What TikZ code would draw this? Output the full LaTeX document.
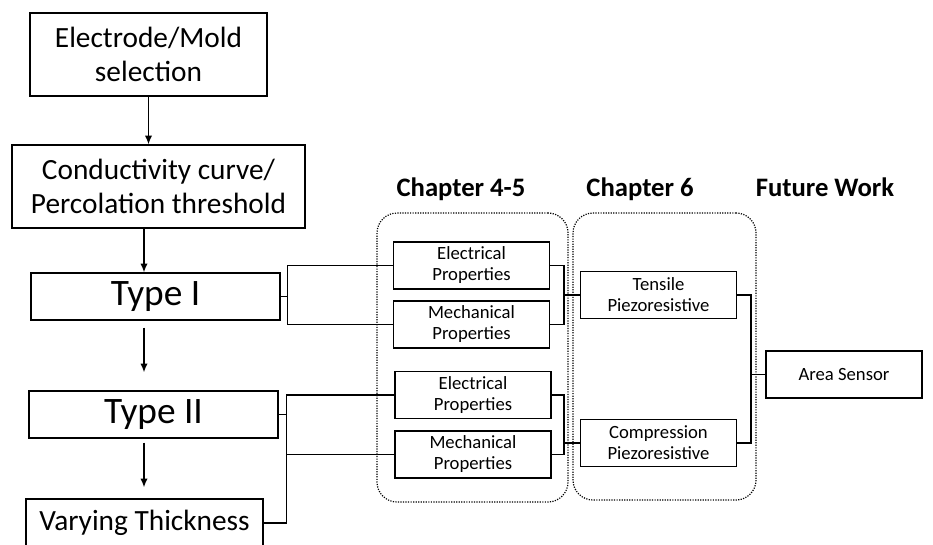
\documentclass[tikz,border=0pt]{standalone}
\usepackage{fontspec}
\setmainfont{Carlito}
\usetikzlibrary{arrows.meta,positioning}

\begin{document}
\begin{tikzpicture}[x=0.75pt, y=-0.75pt,
    box/.style={draw, line width=1.1pt, inner sep=0pt, align=center},
    bigbox/.style={box, font=\fontsize{22}{25.5}\selectfont},
    typebox/.style={box, minimum width=186.75pt, minimum height=35.25pt, font=\fontsize{28}{32}\selectfont},
    smallbox/.style={box, minimum width=117pt, minimum height=35.25pt, font=\fontsize{14}{15.75}\selectfont},
    group/.style={draw, densely dotted, line width=0.9pt, rounded corners=15pt, inner sep=0pt},
    head/.style={anchor=base, font=\fontsize{20}{24}\selectfont\bfseries},
    flow/.style={-{Latex[length=6.5pt,width=5.5pt]}, line width=1pt},
    link/.style={line width=1pt}]
    \useasboundingbox (0,0) rectangle (933,544);

    % Chapter groups
    \node[group, minimum width=143.25pt, minimum height=216.75pt] (g1) at (472.5,357.5) {};
    \node[group, minimum width=137.25pt, minimum height=215.25pt] (g2) at (664.5,356.5) {};
    \node[head] (h1) at (461,196) {Chapter 4-5};
    \node[head] (h2) at (640,196) {Chapter 6};
    \node[head] (h3) at (825,196) {Future Work};

    % Main chain
    \node[bigbox, minimum width=177.75pt, minimum height=62.25pt] (sel) at (148.5,54.5) {Electrode/Mold\\selection};
    \node[bigbox, minimum width=219.75pt, minimum height=62.25pt] (perc) at (158.5,186.5) {Conductivity curve/\\Percolation threshold};
    \node[typebox] (t1) at (155.5,296.5) {Type I};
    \node[typebox] (t2) at (153.5,414.5) {Type II};
    \node[bigbox, minimum width=177.75pt, minimum height=36pt] (vt) at (144.5,523) {Varying Thickness};

    \coordinate (ax) at (144,0);
    \draw[flow] (sel.south) -- (sel.south |- perc.north);
    \draw[flow] (perc.south -| ax) -- (t1.north -| ax);
    \draw[flow, shorten <=5.25pt, shorten >=13.5pt] (t1.south -| ax) -- (t2.north -| ax);
    \draw[flow, shorten <=3pt, shorten >=8.25pt] (t2.south -| ax) -- (vt.north -| ax);

    % Chapter 4-5
    \node[smallbox] (e1) at (471.5,265.5) {Electrical\\Properties};
    \node[smallbox] (m1) at (471.5,324.5) {Mechanical\\Properties};
    \node[smallbox] (e2) at (473,395) {Electrical\\Properties};
    \node[smallbox] (m2) at (473,454.5) {Mechanical\\Properties};

    % Chapter 6 and future work
    \node[smallbox] (tp) at (658.5,295) {Tensile\\Piezoresistive};
    \node[smallbox] (cp) at (658.5,443) {Compression\\Piezoresistive};
    \node[smallbox] (as) at (844,374.5) {Area Sensor};

    % Brackets
    \draw[link] (t1.east) -- ++(7,0) coordinate (b1);
    \draw[link] (e1.west) -| (b1) |- (m1.west);
    \draw[link] (t2.east) -- ++(8,0) coordinate (b2);
    \draw[link] (e2.west) -| (b2) |- (vt.east);
    \draw[link] (b2 |- m2.west) -- (m2.west);

    \coordinate (c1) at (564,295);
    \coordinate (c2) at (564,443);
    \coordinate (c3) at (751,374.5);
    \draw[link] (e1.east) -| (c1) |- (m1.east);
    \draw[link] (c1) -- (tp.west);
    \draw[link] (e2.east) -| (c2) |- (m2.east);
    \draw[link] (c2) -- (cp.west);
    \draw[link] (tp.east) -| (c3) |- (cp.east);
    \draw[link] (c3) -- (as.west);
\end{tikzpicture}
\end{document}
